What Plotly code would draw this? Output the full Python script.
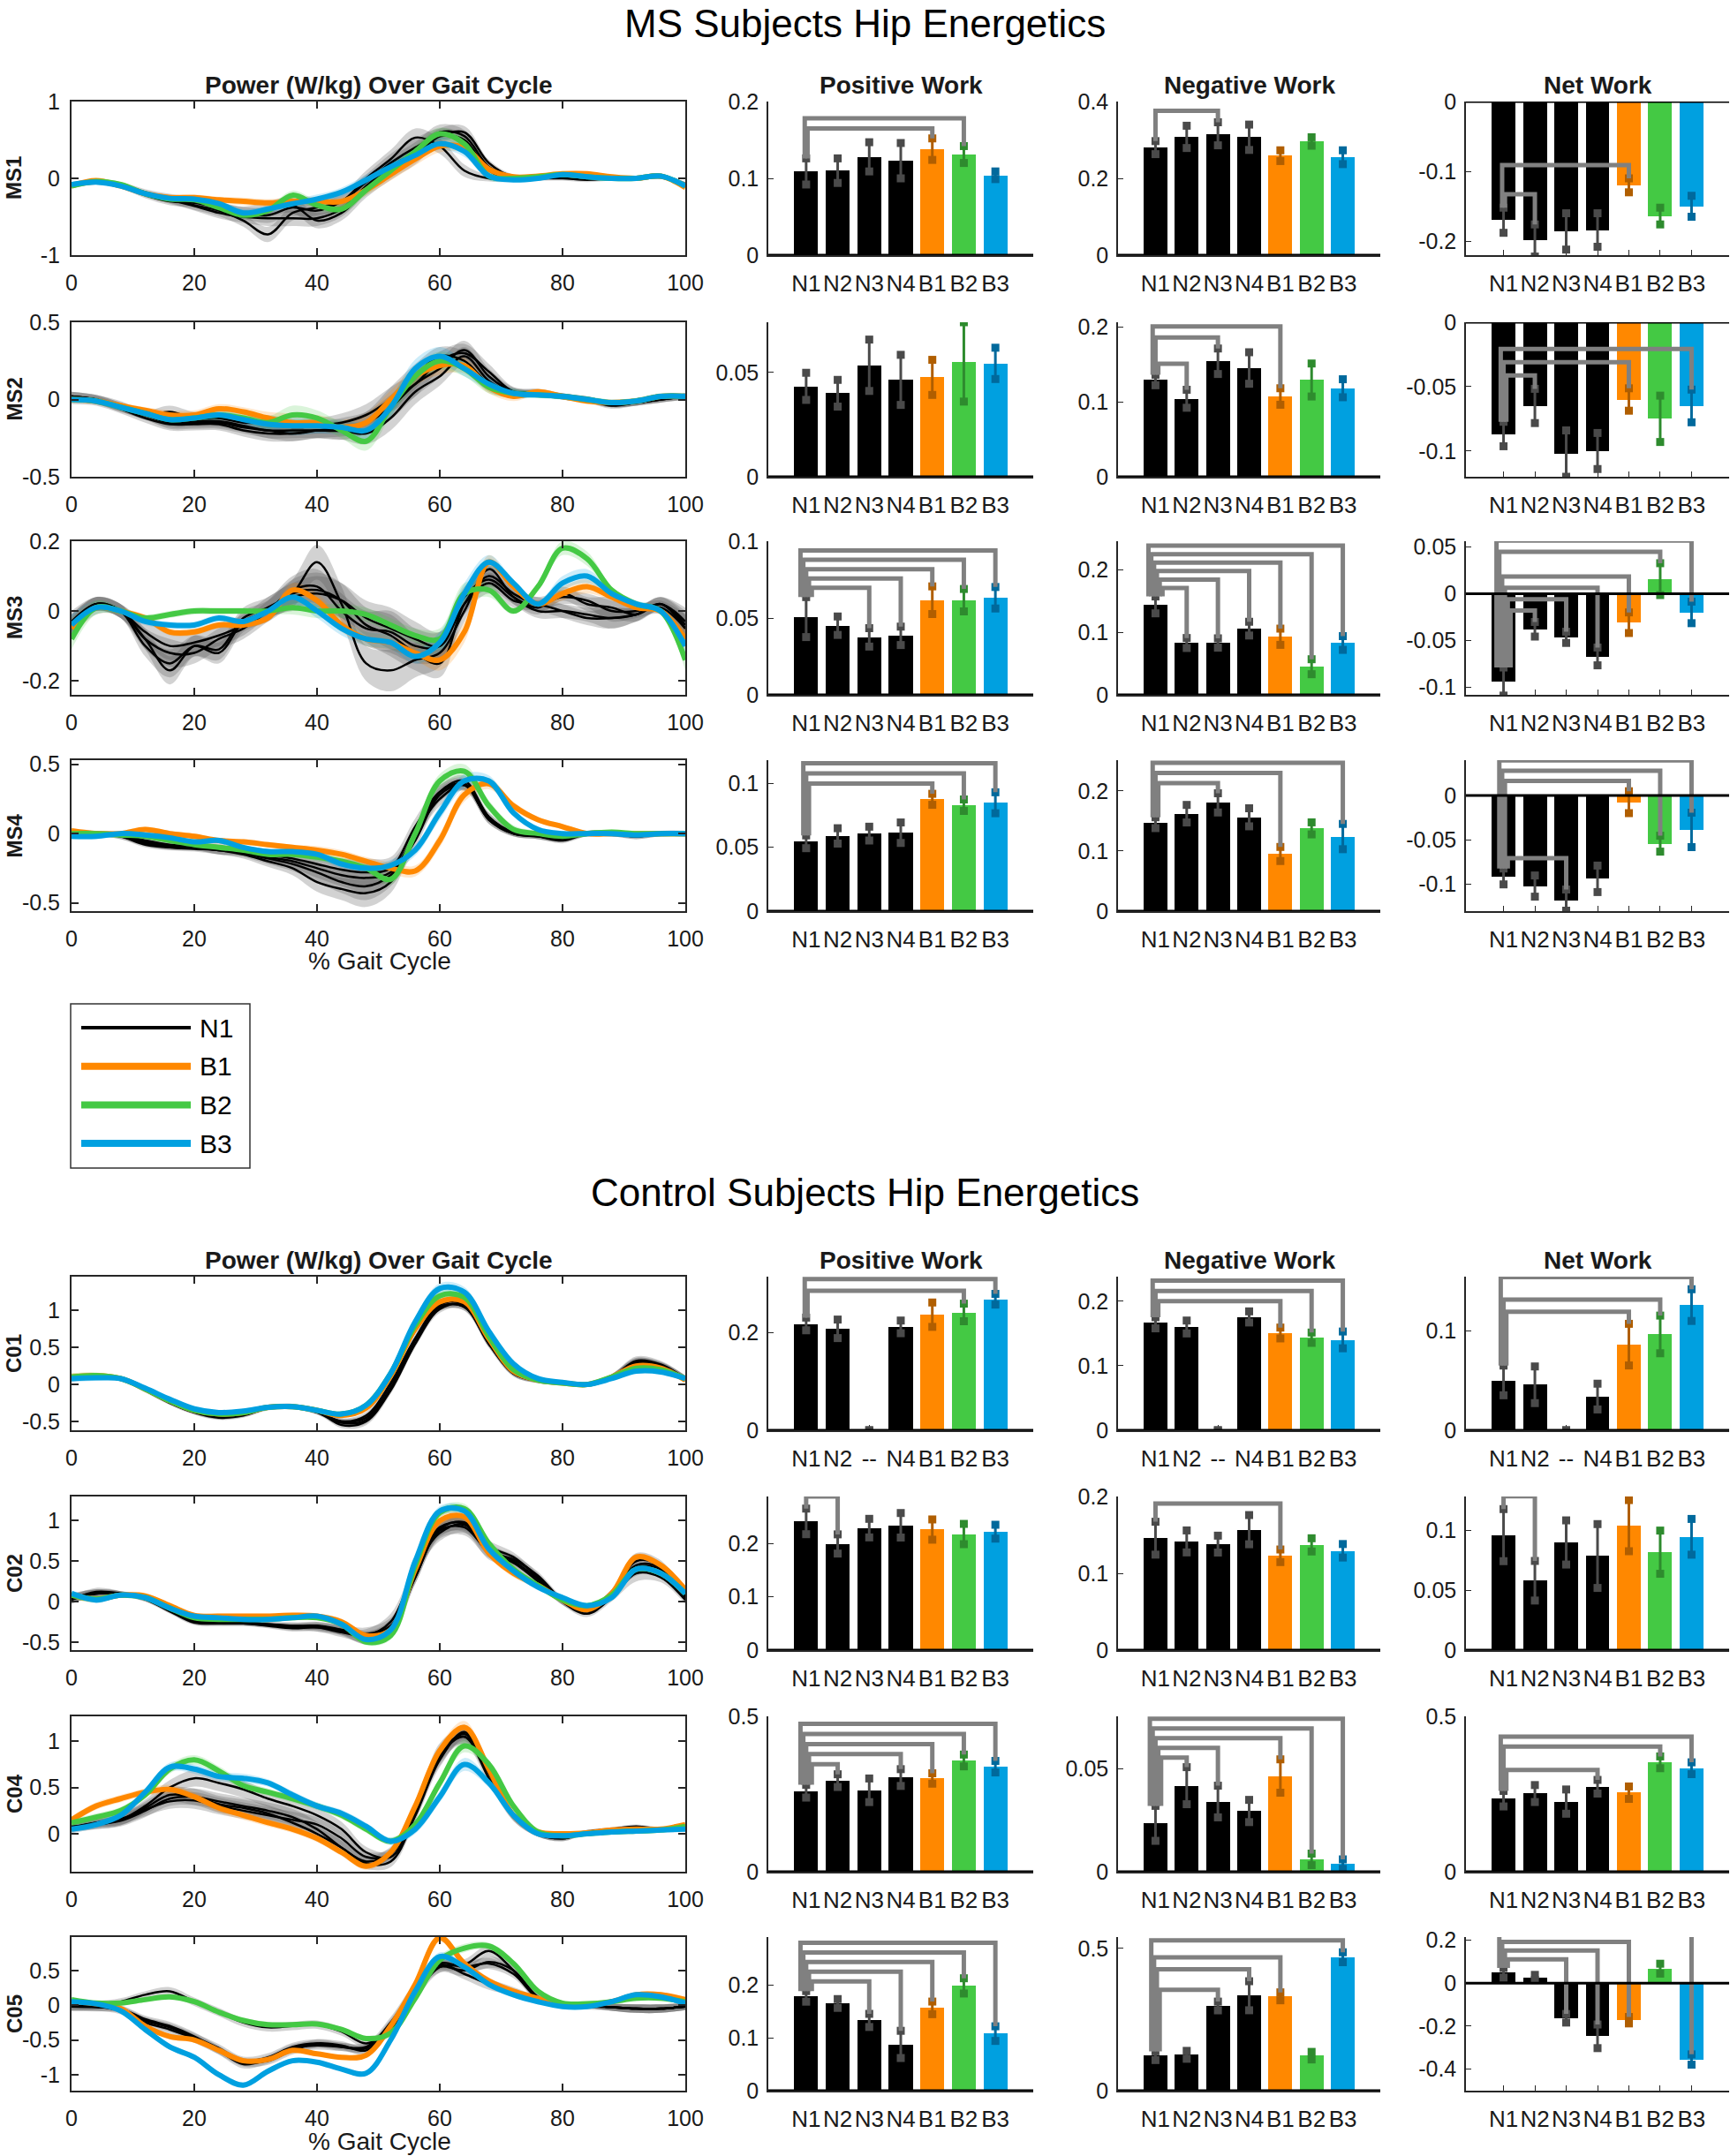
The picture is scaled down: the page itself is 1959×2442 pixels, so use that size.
import plotly.graph_objects as go

# ------------------------------------------------------------------ data
GAIT = [0, 4, 8, 12, 16, 20, 24, 28, 32, 36, 40, 44, 48, 52, 56, 60, 64, 68, 72, 76, 80, 84, 88, 92, 96, 100]
CONDITIONS = ["N1", "N2", "N3", "N4", "B1", "B2", "B3"]
SUBJECTS = ["MS1", "MS2", "MS3", "MS4", "C01", "C02", "C04", "C05"]
C01_LABELS = ["N1", "N2", "--", "N4", "B1", "B2", "B3"]
LEGEND_ITEMS = ["N1", "B1", "B2", "B3"]

MS1_POWER = {
    "N1": [-0.08, -0.04, -0.08, -0.20, -0.27, -0.35, -0.42, -0.55, -0.73, -0.45, -0.38, -0.30, 0.00, 0.25, 0.53, 0.42, 0.10, 0.00, 0.00, 0.00, 0.00, -0.02, 0.00, 0.00, 0.02, -0.08],
    "N2": [-0.10, -0.05, -0.10, -0.20, -0.28, -0.36, -0.45, -0.50, -0.52, -0.52, -0.52, -0.40, -0.10, 0.15, 0.35, 0.60, 0.55, 0.15, 0.02, 0.02, 0.05, 0.02, 0.00, 0.00, 0.02, -0.08],
    "N3": [-0.10, -0.05, -0.08, -0.18, -0.25, -0.30, -0.38, -0.45, -0.40, -0.35, -0.55, -0.45, -0.15, 0.10, 0.30, 0.55, 0.60, 0.20, 0.02, 0.02, 0.05, 0.00, 0.00, 0.00, 0.02, -0.08],
    "N4": [-0.08, -0.05, -0.10, -0.22, -0.30, -0.32, -0.38, -0.45, -0.48, -0.38, -0.42, -0.30, -0.05, 0.20, 0.40, 0.55, 0.50, 0.10, 0.00, 0.00, 0.05, 0.02, 0.00, 0.00, 0.02, -0.08],
    "B1": [-0.10, -0.03, -0.10, -0.20, -0.25, -0.25, -0.28, -0.30, -0.32, -0.30, -0.30, -0.30, -0.15, 0.05, 0.25, 0.42, 0.40, 0.12, 0.02, 0.03, 0.06, 0.06, 0.02, 0.00, 0.03, -0.12],
    "B2": [-0.10, -0.04, -0.08, -0.20, -0.27, -0.28, -0.38, -0.48, -0.42, -0.22, -0.35, -0.40, -0.15, 0.10, 0.35, 0.58, 0.45, 0.03, 0.00, 0.02, 0.05, 0.02, 0.00, 0.00, 0.03, -0.10],
    "B3": [-0.08, -0.05, -0.10, -0.20, -0.26, -0.27, -0.33, -0.45, -0.40, -0.33, -0.27, -0.18, -0.02, 0.15, 0.30, 0.45, 0.35, 0.03, -0.02, 0.00, 0.05, 0.02, 0.00, 0.00, 0.03, -0.10],
}
MS2_POWER = {
    "N1": [0.02, 0.00, -0.05, -0.10, -0.15, -0.15, -0.15, -0.18, -0.20, -0.22, -0.20, -0.18, -0.15, -0.05, 0.10, 0.20, 0.32, 0.15, 0.05, 0.05, 0.02, 0.00, -0.04, -0.02, 0.00, 0.02],
    "N2": [0.02, 0.00, -0.04, -0.10, -0.08, -0.12, -0.12, -0.15, -0.15, -0.18, -0.17, -0.15, -0.10, 0.00, 0.10, 0.25, 0.30, 0.18, 0.05, 0.04, 0.02, 0.00, -0.03, -0.02, 0.01, 0.02],
    "N3": [0.00, -0.01, -0.06, -0.12, -0.16, -0.16, -0.16, -0.20, -0.22, -0.22, -0.20, -0.20, -0.22, -0.12, 0.05, 0.15, 0.28, 0.12, 0.04, 0.04, 0.02, 0.00, -0.03, -0.02, 0.00, 0.02],
    "N4": [0.02, 0.00, -0.05, -0.10, -0.14, -0.14, -0.14, -0.17, -0.20, -0.20, -0.20, -0.20, -0.15, 0.00, 0.15, 0.28, 0.25, 0.10, 0.04, 0.04, 0.02, 0.00, -0.03, -0.02, 0.00, 0.02],
    "B1": [0.00, -0.01, -0.04, -0.07, -0.10, -0.10, -0.06, -0.08, -0.12, -0.15, -0.15, -0.18, -0.15, 0.00, 0.15, 0.22, 0.22, 0.08, 0.02, 0.05, 0.02, -0.01, -0.02, -0.01, 0.02, 0.02],
    "B2": [0.00, -0.01, -0.05, -0.09, -0.13, -0.12, -0.10, -0.12, -0.15, -0.10, -0.12, -0.20, -0.27, -0.05, 0.15, 0.25, 0.20, 0.08, 0.04, 0.03, 0.02, 0.00, -0.02, -0.01, 0.02, 0.02],
    "B3": [0.00, -0.01, -0.05, -0.09, -0.13, -0.12, -0.10, -0.13, -0.16, -0.17, -0.17, -0.18, -0.20, -0.05, 0.20, 0.28, 0.20, 0.10, 0.04, 0.03, 0.02, 0.00, -0.02, -0.01, 0.02, 0.02],
}
MS3_POWER = {
    "N1": [-0.05, 0.02, 0.00, -0.08, -0.17, -0.10, -0.11, -0.02, 0.01, 0.05, 0.14, 0.02, -0.15, -0.17, -0.14, -0.12, 0.00, 0.12, 0.04, 0.00, 0.00, -0.01, -0.02, -0.01, 0.02, -0.05],
    "N2": [-0.04, 0.02, 0.00, -0.10, -0.15, -0.10, -0.12, -0.03, 0.00, 0.05, 0.06, 0.03, -0.04, -0.07, -0.12, -0.15, 0.02, 0.10, 0.05, 0.02, 0.04, 0.03, 0.00, 0.00, 0.01, -0.05],
    "N3": [-0.04, 0.02, 0.00, -0.08, -0.12, -0.12, -0.08, -0.05, 0.00, 0.06, 0.07, 0.00, -0.05, -0.06, -0.10, -0.10, 0.04, 0.09, 0.04, 0.01, 0.05, 0.02, 0.01, -0.01, 0.02, -0.04],
    "N4": [-0.03, 0.02, 0.00, -0.06, -0.10, -0.09, -0.07, -0.04, 0.01, 0.04, 0.05, 0.03, -0.02, -0.05, -0.08, -0.10, 0.02, 0.08, 0.03, 0.02, 0.00, -0.02, -0.02, -0.01, 0.02, -0.03],
    "B1": [-0.05, 0.01, 0.00, -0.02, -0.06, -0.06, -0.04, -0.04, -0.02, 0.06, 0.03, -0.04, -0.08, -0.09, -0.12, -0.14, -0.06, 0.14, 0.07, 0.02, 0.05, 0.07, 0.04, 0.01, 0.00, -0.08],
    "B2": [-0.08, 0.01, 0.00, -0.02, -0.01, 0.00, 0.00, 0.00, 0.00, 0.01, 0.00, 0.00, -0.01, -0.04, -0.07, -0.08, 0.05, 0.06, 0.00, 0.07, 0.18, 0.15, 0.06, 0.02, 0.00, -0.14],
    "B3": [-0.04, 0.01, 0.00, -0.03, -0.04, -0.04, -0.02, -0.03, 0.00, 0.04, 0.00, -0.05, -0.08, -0.09, -0.13, -0.09, 0.05, 0.14, 0.08, 0.02, 0.08, 0.10, 0.05, 0.02, 0.00, -0.10],
}
MS4_POWER = {
    "N1": [0.00, 0.00, -0.02, -0.08, -0.10, -0.10, -0.12, -0.15, -0.20, -0.25, -0.35, -0.40, -0.43, -0.35, 0.00, 0.25, 0.35, 0.10, 0.00, -0.02, -0.05, 0.00, 0.00, -0.02, 0.00, 0.00],
    "N2": [0.00, 0.00, -0.01, -0.06, -0.09, -0.10, -0.12, -0.13, -0.17, -0.20, -0.25, -0.30, -0.32, -0.28, 0.00, 0.30, 0.38, 0.12, 0.00, -0.02, -0.04, 0.00, 0.00, -0.01, 0.00, 0.00],
    "N3": [0.00, 0.00, -0.02, -0.07, -0.10, -0.11, -0.12, -0.14, -0.18, -0.22, -0.28, -0.35, -0.38, -0.30, -0.05, 0.28, 0.35, 0.10, 0.00, -0.02, -0.04, 0.00, 0.00, -0.02, 0.00, 0.00],
    "N4": [0.00, 0.00, -0.01, -0.05, -0.08, -0.09, -0.10, -0.12, -0.15, -0.18, -0.22, -0.26, -0.28, -0.25, 0.05, 0.30, 0.36, 0.12, 0.01, -0.01, -0.03, 0.00, 0.00, -0.01, 0.00, 0.00],
    "B1": [0.02, 0.00, 0.00, 0.03, 0.00, -0.02, -0.05, -0.06, -0.08, -0.10, -0.12, -0.15, -0.20, -0.25, -0.27, -0.05, 0.28, 0.36, 0.20, 0.10, 0.05, 0.00, 0.00, 0.00, 0.00, 0.00],
    "B2": [0.00, 0.00, -0.01, -0.02, -0.05, -0.08, -0.10, -0.12, -0.15, -0.15, -0.17, -0.20, -0.25, -0.33, 0.00, 0.38, 0.45, 0.20, 0.03, 0.00, -0.02, 0.00, 0.01, 0.00, 0.00, 0.00],
    "B3": [-0.02, -0.02, 0.00, -0.01, -0.03, -0.06, -0.05, -0.10, -0.13, -0.13, -0.15, -0.22, -0.25, -0.23, -0.12, 0.15, 0.38, 0.38, 0.15, 0.03, 0.00, 0.00, 0.00, -0.01, 0.00, 0.00],
}
C01_POWER = {
    "N1": [0.10, 0.10, 0.08, -0.08, -0.25, -0.38, -0.45, -0.42, -0.32, -0.30, -0.38, -0.52, -0.48, -0.05, 0.60, 1.05, 1.05, 0.55, 0.15, 0.05, 0.02, 0.00, 0.10, 0.30, 0.25, 0.08],
    "N2": [0.08, 0.10, 0.08, -0.06, -0.22, -0.36, -0.43, -0.40, -0.30, -0.30, -0.36, -0.55, -0.50, -0.08, 0.55, 1.02, 1.08, 0.58, 0.16, 0.05, 0.02, 0.00, 0.10, 0.32, 0.27, 0.08],
    "N3": [0.10, 0.11, 0.08, -0.07, -0.24, -0.37, -0.44, -0.41, -0.31, -0.29, -0.37, -0.50, -0.45, 0.00, 0.62, 1.08, 1.10, 0.60, 0.18, 0.05, 0.02, 0.00, 0.10, 0.28, 0.25, 0.08],
    "N4": [0.09, 0.10, 0.08, -0.07, -0.23, -0.37, -0.44, -0.40, -0.31, -0.30, -0.37, -0.50, -0.42, 0.02, 0.62, 1.05, 1.05, 0.55, 0.15, 0.05, 0.02, 0.00, 0.10, 0.30, 0.26, 0.08],
    "B1": [0.10, 0.12, 0.08, -0.06, -0.22, -0.35, -0.40, -0.38, -0.31, -0.30, -0.35, -0.42, -0.32, 0.12, 0.75, 1.12, 1.12, 0.62, 0.18, 0.06, 0.02, 0.00, 0.10, 0.25, 0.22, 0.06],
    "B2": [0.10, 0.12, 0.08, -0.06, -0.22, -0.35, -0.40, -0.38, -0.31, -0.30, -0.35, -0.40, -0.28, 0.15, 0.80, 1.20, 1.18, 0.65, 0.20, 0.06, 0.02, 0.00, 0.10, 0.22, 0.20, 0.08],
    "B3": [0.08, 0.09, 0.08, -0.05, -0.20, -0.33, -0.38, -0.36, -0.31, -0.30, -0.35, -0.40, -0.28, 0.15, 0.85, 1.30, 1.25, 0.72, 0.28, 0.08, 0.03, 0.00, 0.08, 0.18, 0.17, 0.08],
}
C02_POWER = {
    "N1": [0.05, 0.10, 0.10, 0.05, -0.10, -0.25, -0.27, -0.27, -0.30, -0.33, -0.32, -0.38, -0.42, -0.25, 0.40, 0.85, 0.95, 0.65, 0.50, 0.28, 0.00, -0.12, 0.10, 0.42, 0.40, 0.05],
    "N2": [0.02, 0.12, 0.10, 0.03, -0.12, -0.26, -0.26, -0.26, -0.28, -0.30, -0.32, -0.35, -0.40, -0.30, 0.30, 0.90, 0.98, 0.68, 0.55, 0.30, 0.00, -0.15, 0.05, 0.35, 0.30, 0.02],
    "N3": [0.03, 0.10, 0.10, 0.03, -0.10, -0.24, -0.26, -0.26, -0.28, -0.30, -0.30, -0.36, -0.45, -0.35, 0.30, 0.88, 0.92, 0.62, 0.52, 0.32, 0.02, -0.12, 0.08, 0.45, 0.42, 0.05],
    "N4": [0.05, 0.10, 0.10, 0.04, -0.11, -0.25, -0.27, -0.27, -0.29, -0.32, -0.30, -0.35, -0.45, -0.32, 0.35, 0.92, 0.96, 0.60, 0.48, 0.25, 0.00, -0.10, 0.10, 0.50, 0.45, 0.05],
    "B1": [0.08, 0.03, 0.08, 0.07, -0.05, -0.17, -0.18, -0.18, -0.18, -0.17, -0.18, -0.25, -0.42, -0.35, 0.40, 1.00, 1.05, 0.60, 0.35, 0.20, 0.02, -0.10, 0.10, 0.55, 0.45, 0.15],
    "B2": [0.08, 0.03, 0.08, 0.05, -0.08, -0.20, -0.22, -0.22, -0.22, -0.20, -0.20, -0.28, -0.50, -0.42, 0.45, 1.10, 1.15, 0.72, 0.40, 0.20, 0.02, -0.05, 0.08, 0.40, 0.35, 0.10],
    "B3": [0.10, 0.02, 0.08, 0.05, -0.08, -0.18, -0.20, -0.22, -0.22, -0.20, -0.18, -0.28, -0.47, -0.35, 0.50, 1.12, 1.12, 0.65, 0.38, 0.18, 0.05, -0.05, 0.05, 0.40, 0.35, 0.10],
}
C04_POWER = {
    "N1": [0.08, 0.10, 0.15, 0.30, 0.50, 0.60, 0.55, 0.48, 0.38, 0.30, 0.20, 0.05, -0.20, -0.25, 0.20, 0.80, 1.10, 0.70, 0.20, 0.00, -0.05, 0.02, 0.05, 0.08, 0.05, 0.05],
    "N2": [0.05, 0.10, 0.14, 0.25, 0.38, 0.40, 0.35, 0.30, 0.25, 0.18, 0.05, -0.15, -0.30, -0.20, 0.25, 0.85, 1.05, 0.65, 0.18, 0.00, -0.04, 0.02, 0.04, 0.05, 0.05, 0.05],
    "N3": [0.06, 0.12, 0.15, 0.28, 0.42, 0.40, 0.32, 0.28, 0.22, 0.12, 0.00, -0.15, -0.32, -0.30, 0.20, 0.90, 1.05, 0.60, 0.18, 0.00, -0.04, 0.02, 0.04, 0.06, 0.05, 0.05],
    "N4": [0.07, 0.12, 0.16, 0.26, 0.35, 0.36, 0.30, 0.25, 0.20, 0.15, 0.10, -0.05, -0.25, -0.22, 0.22, 0.82, 1.08, 0.68, 0.20, 0.00, -0.05, 0.02, 0.05, 0.07, 0.05, 0.05],
    "B1": [0.15, 0.30, 0.38, 0.45, 0.48, 0.40, 0.28, 0.20, 0.12, 0.05, -0.05, -0.20, -0.35, -0.20, 0.30, 0.90, 1.15, 0.70, 0.20, 0.02, 0.00, 0.01, 0.04, 0.05, 0.05, 0.10],
    "B2": [0.12, 0.18, 0.25, 0.42, 0.70, 0.80, 0.68, 0.52, 0.45, 0.38, 0.30, 0.20, 0.05, -0.08, 0.10, 0.55, 0.95, 0.75, 0.30, 0.02, -0.02, 0.00, 0.02, 0.03, 0.04, 0.08],
    "B3": [0.05, 0.10, 0.20, 0.45, 0.72, 0.70, 0.62, 0.60, 0.55, 0.42, 0.30, 0.22, 0.08, -0.08, 0.05, 0.40, 0.75, 0.55, 0.20, 0.00, -0.02, 0.00, 0.02, 0.03, 0.04, 0.05],
}
C05_POWER = {
    "N1": [0.00, 0.00, 0.05, 0.15, 0.20, 0.05, -0.10, -0.25, -0.32, -0.30, -0.28, -0.38, -0.55, -0.35, 0.15, 0.55, 0.58, 0.78, 0.50, 0.10, 0.00, -0.02, -0.03, -0.05, -0.05, -0.02],
    "N2": [-0.02, -0.02, -0.05, -0.20, -0.30, -0.45, -0.65, -0.85, -0.78, -0.62, -0.58, -0.60, -0.60, -0.25, 0.25, 0.58, 0.45, 0.30, 0.20, 0.08, 0.00, 0.00, -0.03, -0.05, -0.05, -0.02],
    "N3": [-0.02, -0.02, -0.08, -0.25, -0.35, -0.48, -0.65, -0.82, -0.80, -0.65, -0.55, -0.58, -0.65, -0.30, 0.20, 0.60, 0.55, 0.60, 0.45, 0.10, 0.00, 0.00, -0.03, -0.05, -0.05, -0.02],
    "N4": [-0.02, -0.03, -0.06, -0.22, -0.32, -0.46, -0.62, -0.80, -0.75, -0.60, -0.55, -0.60, -0.62, -0.28, 0.22, 0.55, 0.50, 0.62, 0.50, 0.12, 0.00, 0.00, -0.03, -0.05, -0.05, -0.02],
    "B1": [0.05, 0.02, -0.05, -0.30, -0.45, -0.50, -0.65, -0.80, -0.78, -0.65, -0.70, -0.75, -0.72, -0.30, 0.30, 0.97, 0.60, 0.35, 0.20, 0.10, 0.00, 0.00, 0.05, 0.15, 0.15, 0.08],
    "B2": [0.08, 0.03, 0.03, 0.08, 0.12, 0.05, -0.10, -0.22, -0.28, -0.28, -0.27, -0.35, -0.48, -0.40, 0.10, 0.65, 0.82, 0.85, 0.60, 0.20, 0.03, 0.02, 0.05, 0.10, 0.10, 0.05],
    "B3": [0.05, 0.02, -0.08, -0.35, -0.60, -0.75, -1.00, -1.15, -0.95, -0.80, -0.82, -0.92, -0.98, -0.50, 0.20, 0.70, 0.55, 0.30, 0.15, 0.05, -0.02, -0.02, 0.05, 0.15, 0.12, 0.03],
}

# shaded band half-widths (black conditions / coloured conditions)
MS1_BAND_N = [0.03, 0.03, 0.03, 0.04, 0.05, 0.06, 0.07, 0.08, 0.10, 0.10, 0.10, 0.10, 0.10, 0.12, 0.12, 0.10, 0.08, 0.04, 0.03, 0.03, 0.03, 0.03, 0.03, 0.03, 0.03, 0.03]
MS1_BAND_B = [0.03, 0.03, 0.03, 0.03, 0.04, 0.04, 0.04, 0.05, 0.05, 0.06, 0.06, 0.06, 0.07, 0.08, 0.08, 0.08, 0.07, 0.05, 0.03, 0.03, 0.03, 0.03, 0.03, 0.03, 0.03, 0.03]
MS2_BAND_N = [0.03, 0.03, 0.03, 0.03, 0.04, 0.04, 0.04, 0.04, 0.05, 0.05, 0.05, 0.06, 0.07, 0.08, 0.08, 0.06, 0.06, 0.05, 0.03, 0.02, 0.02, 0.02, 0.02, 0.02, 0.02, 0.02]
MS2_BAND_B = [0.02, 0.02, 0.02, 0.02, 0.03, 0.03, 0.03, 0.03, 0.04, 0.06, 0.05, 0.05, 0.06, 0.06, 0.06, 0.06, 0.05, 0.04, 0.03, 0.02, 0.02, 0.02, 0.02, 0.02, 0.02, 0.02]
MS3_BAND_N = [0.03, 0.02, 0.02, 0.03, 0.04, 0.03, 0.03, 0.03, 0.03, 0.04, 0.05, 0.05, 0.05, 0.06, 0.05, 0.04, 0.03, 0.03, 0.02, 0.02, 0.02, 0.02, 0.03, 0.02, 0.02, 0.04]
MS3_BAND_B = [0.03, 0.02, 0.01, 0.01, 0.01, 0.01, 0.01, 0.01, 0.01, 0.02, 0.02, 0.02, 0.02, 0.02, 0.02, 0.03, 0.03, 0.02, 0.01, 0.01, 0.02, 0.02, 0.01, 0.01, 0.01, 0.03]
MS4_BAND_N = [0.02, 0.02, 0.02, 0.02, 0.02, 0.02, 0.03, 0.03, 0.04, 0.05, 0.07, 0.08, 0.10, 0.08, 0.06, 0.05, 0.04, 0.03, 0.02, 0.02, 0.02, 0.02, 0.02, 0.02, 0.02, 0.02]
MS4_BAND_B = [0.02, 0.02, 0.02, 0.02, 0.02, 0.02, 0.02, 0.02, 0.02, 0.02, 0.03, 0.03, 0.03, 0.04, 0.04, 0.05, 0.05, 0.04, 0.03, 0.02, 0.02, 0.02, 0.02, 0.02, 0.02, 0.02]
C01_BAND_N = [0.04, 0.03, 0.03, 0.03, 0.03, 0.03, 0.03, 0.03, 0.03, 0.03, 0.03, 0.04, 0.05, 0.05, 0.05, 0.05, 0.05, 0.05, 0.04, 0.03, 0.03, 0.03, 0.04, 0.06, 0.05, 0.04]
C01_BAND_B = [0.05, 0.04, 0.03, 0.03, 0.03, 0.03, 0.03, 0.03, 0.03, 0.03, 0.03, 0.03, 0.04, 0.05, 0.06, 0.07, 0.07, 0.05, 0.04, 0.03, 0.03, 0.03, 0.03, 0.03, 0.03, 0.04]
C02_BAND_N = [0.05, 0.05, 0.03, 0.03, 0.03, 0.03, 0.03, 0.03, 0.03, 0.04, 0.05, 0.06, 0.08, 0.10, 0.08, 0.10, 0.10, 0.08, 0.06, 0.05, 0.04, 0.04, 0.05, 0.10, 0.06, 0.05]
C02_BAND_B = [0.04, 0.04, 0.03, 0.03, 0.03, 0.03, 0.03, 0.03, 0.03, 0.03, 0.03, 0.04, 0.04, 0.05, 0.06, 0.06, 0.06, 0.05, 0.05, 0.04, 0.03, 0.03, 0.03, 0.04, 0.04, 0.04]
C04_BAND_N = [0.04, 0.05, 0.06, 0.07, 0.08, 0.09, 0.09, 0.09, 0.09, 0.09, 0.08, 0.08, 0.06, 0.06, 0.06, 0.08, 0.08, 0.06, 0.04, 0.03, 0.03, 0.02, 0.02, 0.02, 0.02, 0.02]
C04_BAND_B = [0.04, 0.04, 0.04, 0.04, 0.05, 0.05, 0.05, 0.05, 0.04, 0.04, 0.04, 0.04, 0.04, 0.04, 0.05, 0.06, 0.07, 0.05, 0.03, 0.03, 0.02, 0.02, 0.02, 0.02, 0.02, 0.03]
C05_BAND_N = [0.06, 0.06, 0.05, 0.05, 0.06, 0.06, 0.06, 0.06, 0.06, 0.06, 0.06, 0.06, 0.06, 0.08, 0.08, 0.08, 0.08, 0.08, 0.06, 0.05, 0.04, 0.04, 0.05, 0.06, 0.06, 0.05]
C05_BAND_B = [0.03, 0.03, 0.03, 0.03, 0.04, 0.04, 0.04, 0.04, 0.04, 0.03, 0.03, 0.03, 0.04, 0.05, 0.05, 0.06, 0.06, 0.05, 0.04, 0.03, 0.03, 0.03, 0.03, 0.04, 0.04, 0.04]

# work bars: mean, sd, significant comparisons against N1
MS1_POS = [0.109, 0.110, 0.128, 0.123, 0.138, 0.131, 0.104]
MS1_POS_SD = [0.017, 0.016, 0.019, 0.023, 0.014, 0.011, 0.005]
MS1_POS_SIG = ["B1", "B2"]
MS1_NEG = [0.280, 0.308, 0.316, 0.307, 0.259, 0.296, 0.255]
MS1_NEG_SD = [0.017, 0.029, 0.030, 0.033, 0.014, 0.011, 0.018]
MS1_NEG_SIG = ["N3"]
MS1_NET = [-0.170, -0.199, -0.186, -0.184, -0.120, -0.164, -0.150]
MS1_NET_SD = [0.018, 0.023, 0.026, 0.024, 0.010, 0.012, 0.015]
MS1_NET_SIG = ["N2", "B1"]

MS2_POS = [0.0433, 0.040, 0.0534, 0.0464, 0.0476, 0.055, 0.0543]
MS2_POS_SD = [0.0065, 0.0064, 0.0123, 0.012, 0.0084, 0.019, 0.0075]
MS2_POS_SIG = []
MS2_NEG = [0.129, 0.104, 0.154, 0.145, 0.107, 0.129, 0.118]
MS2_NEG_SD = [0.007, 0.012, 0.017, 0.021, 0.011, 0.022, 0.012]
MS2_NEG_SIG = ["N2", "N3", "B1"]
MS2_NET = [-0.0868, -0.065, -0.102, -0.100, -0.060, -0.075, -0.065]
MS2_NET_SD = [0.0095, 0.0133, 0.018, 0.014, 0.0087, 0.018, 0.0127]
MS2_NET_SIG = ["N2", "B1", "B3"]

MS3_POS = [0.0506, 0.045, 0.0374, 0.0384, 0.0616, 0.0616, 0.0632]
MS3_POS_SD = [0.013, 0.006, 0.006, 0.006, 0.009, 0.0073, 0.007]
MS3_POS_SIG = ["N3", "N4", "B1", "B2", "B3"]
MS3_NEG = [0.144, 0.083, 0.083, 0.106, 0.093, 0.045, 0.083]
MS3_NEG_SD = [0.0135, 0.008, 0.0075, 0.011, 0.013, 0.012, 0.011]
MS3_NEG_SIG = ["N2", "N3", "N4", "B1", "B2", "B3"]
MS3_NET = [-0.0938, -0.038, -0.0466, -0.067, -0.031, 0.0155, -0.020]
MS3_NET_SD = [0.015, 0.0078, 0.006, 0.0095, 0.011, 0.017, 0.0115]
MS3_NET_SIG = ["N2", "N3", "N4", "B1", "B2", "B3"]

MS4_POS = [0.0542, 0.0588, 0.0606, 0.0613, 0.0874, 0.0828, 0.0847]
MS4_POS_SD = [0.005, 0.006, 0.0054, 0.008, 0.0043, 0.0045, 0.0082]
MS4_POS_SIG = ["B1", "B2", "B3"]
MS4_NEG = [0.147, 0.162, 0.180, 0.156, 0.095, 0.1376, 0.124]
MS4_NEG_SD = [0.009, 0.0146, 0.016, 0.015, 0.0117, 0.010, 0.021]
MS4_NEG_SIG = ["N3", "B1", "B3"]
MS4_NET = [-0.0917, -0.1026, -0.1185, -0.0944, -0.0076, -0.0546, -0.039]
MS4_NET_SD = [0.009, 0.012, 0.012, 0.015, 0.0124, 0.009, 0.0195]
MS4_NET_SIG = ["N3", "B1", "B2", "B3"]

C01_POS = [0.218, 0.208, 0.0, 0.212, 0.237, 0.2416, 0.2687]
C01_POS_SD = [0.013, 0.019, 0.0, 0.013, 0.025, 0.018, 0.011]
C01_POS_SIG = ["B2", "B3"]
C01_NEG = [0.1665, 0.160, 0.0, 0.1756, 0.1507, 0.1434, 0.140]
C01_NEG_SD = [0.0086, 0.010, 0.0, 0.0086, 0.0084, 0.008, 0.013]
C01_NEG_SIG = ["B1", "B2", "B3"]
C01_NET = [0.0503, 0.0459, 0.0, 0.034, 0.0864, 0.0967, 0.1263]
C01_NET_SD = [0.015, 0.0185, 0.0, 0.013, 0.021, 0.019, 0.016]
C01_NET_SIG = ["B1", "B2", "B3"]

C02_POS = [0.2413, 0.199, 0.2287, 0.234, 0.226, 0.2176, 0.222]
C02_POS_SD = [0.024, 0.018, 0.0174, 0.023, 0.019, 0.019, 0.013]
C02_POS_SIG = ["N2"]
C02_NEG = [0.1457, 0.1415, 0.138, 0.1568, 0.1228, 0.137, 0.1293]
C02_NEG_SD = [0.0214, 0.0143, 0.011, 0.019, 0.0082, 0.0086, 0.0088]
C02_NEG_SIG = ["B1"]
C02_NET = [0.0958, 0.0578, 0.0897, 0.0784, 0.1037, 0.0816, 0.0944]
C02_NET_SD = [0.0217, 0.0165, 0.0184, 0.0266, 0.0213, 0.018, 0.0149]
C02_NET_SIG = ["N2"]

C04_POS = [0.259, 0.293, 0.262, 0.303, 0.300, 0.358, 0.338]
C04_POS_SD = [0.0205, 0.0205, 0.038, 0.027, 0.0167, 0.019, 0.0186]
C04_POS_SIG = ["N2", "N4", "B1", "B2", "B3"]
C04_NEG = [0.0235, 0.0418, 0.0341, 0.0295, 0.0465, 0.006, 0.0037]
C04_NEG_SD = [0.0085, 0.009, 0.0077, 0.0054, 0.0081, 0.0028, 0.0023]
C04_NEG_SIG = ["N2", "N3", "B1", "B2", "B3"]
C04_NET = [0.235, 0.2515, 0.2256, 0.2734, 0.2543, 0.352, 0.333]
C04_NET_SD = [0.025, 0.0273, 0.039, 0.022, 0.020, 0.019, 0.019]
C04_NET_SIG = ["N4", "B2", "B3"]

C05_POS = [0.178, 0.1646, 0.1326, 0.0873, 0.1563, 0.1978, 0.1077]
C05_POS_SD = [0.010, 0.0083, 0.0124, 0.0257, 0.0119, 0.0144, 0.0138]
C05_POS_SIG = ["N3", "N4", "B1", "B2", "B3"]
C05_NEG = [0.123, 0.126, 0.2977, 0.3337, 0.3316, 0.123, 0.469]
C05_NEG_SD = [0.0154, 0.0139, 0.0154, 0.051, 0.014, 0.0133, 0.0175]
C05_NEG_SIG = ["N3", "N4", "B1", "B3"]
C05_NET = [0.0488, 0.027, -0.163, -0.247, -0.172, 0.0678, -0.355]
C05_NET_SD = [0.0224, 0.012, 0.02, 0.055, 0.015, 0.023, 0.024]
C05_NET_SIG = ["N3", "N4", "B1", "B3"]

# ------------------------------------------------------------------ assemble tables
POWER = {"MS1": MS1_POWER, "MS2": MS2_POWER, "MS3": MS3_POWER, "MS4": MS4_POWER,
         "C01": C01_POWER, "C02": C02_POWER, "C04": C04_POWER, "C05": C05_POWER}
BAND_N = {"MS1": MS1_BAND_N, "MS2": MS2_BAND_N, "MS3": MS3_BAND_N, "MS4": MS4_BAND_N,
          "C01": C01_BAND_N, "C02": C02_BAND_N, "C04": C04_BAND_N, "C05": C05_BAND_N}
BAND_B = {"MS1": MS1_BAND_B, "MS2": MS2_BAND_B, "MS3": MS3_BAND_B, "MS4": MS4_BAND_B,
          "C01": C01_BAND_B, "C02": C02_BAND_B, "C04": C04_BAND_B, "C05": C05_BAND_B}
_g = globals()
WORK = {}
for s in SUBJECTS:
    for m in ("POS", "NEG", "NET"):
        WORK[(s, m)] = (_g[f"{s}_{m}"], _g[f"{s}_{m}_SD"], _g[f"{s}_{m}_SIG"])
XLABELS = {s: CONDITIONS for s in SUBJECTS}
XLABELS["C01"] = C01_LABELS

# ------------------------------------------------------------------ styling / layout
W, H = 1959, 2442
FONT = "Liberation Sans, Arial, Helvetica, sans-serif"
TXT = "#1a1a1a"
COLORS = {"N1": "#000000", "N2": "#000000", "N3": "#000000", "N4": "#000000",
          "B1": "#FF8800", "B2": "#44C944", "B3": "#00A0E0"}
BANDS = {"N": "rgba(80,80,80,0.26)", "B1": "rgba(255,136,0,0.20)",
         "B2": "rgba(68,201,68,0.20)", "B3": "rgba(0,160,224,0.20)"}
ERR_GROUPS = [([0, 1, 2, 3], "#4a4a4a"), ([4], "#B05E00"), ([5], "#2E8B2E"), ([6], "#00699C")]

ROW_PX = {"MS1": (115, 289), "MS2": (365, 540), "MS3": (613, 787), "MS4": (861, 1032),
          "C01": (1446, 1620), "C02": (1695, 1869), "C04": (1944, 2120), "C05": (2194, 2368)}
COL_PX = {"power": (81, 776), "POS": (870, 1170), "NEG": (1266, 1563), "NET": (1660, 1958)}
COLS = ["power", "POS", "NEG", "NET"]

POWER_RANGE = {"MS1": [-1, 1], "MS2": [-0.5, 0.5], "MS3": [-0.24, 0.2], "MS4": [-0.56, 0.53],
               "C01": [-0.62, 1.46], "C02": [-0.6, 1.3], "C04": [-0.41, 1.27], "C05": [-1.23, 0.98]}
POWER_TICKS = {"MS1": [-1, 0, 1], "MS2": [-0.5, 0, 0.5], "MS3": [-0.2, 0, 0.2], "MS4": [-0.5, 0, 0.5],
               "C01": [-0.5, 0, 0.5, 1], "C02": [-0.5, 0, 0.5, 1], "C04": [0, 0.5, 1], "C05": [-1, -0.5, 0, 0.5]}
WORK_RANGE = {
    ("MS1", "POS"): [0, 0.2], ("MS1", "NEG"): [0, 0.4], ("MS1", "NET"): [-0.22, 0],
    ("MS2", "POS"): [0, 0.074], ("MS2", "NEG"): [0, 0.206], ("MS2", "NET"): [-0.12, 0],
    ("MS3", "POS"): [0, 0.1], ("MS3", "NEG"): [0, 0.246], ("MS3", "NET"): [-0.108, 0.056],
    ("MS4", "POS"): [0, 0.118], ("MS4", "NEG"): [0, 0.251], ("MS4", "NET"): [-0.131, 0.04],
    ("C01", "POS"): [0, 0.315], ("C01", "NEG"): [0, 0.238], ("C01", "NET"): [0, 0.155],
    ("C02", "POS"): [0, 0.288], ("C02", "NEG"): [0, 0.2], ("C02", "NET"): [0, 0.128],
    ("C04", "POS"): [0, 0.5], ("C04", "NEG"): [0, 0.0755], ("C04", "NET"): [0, 0.5],
    ("C05", "POS"): [0, 0.29], ("C05", "NEG"): [0, 0.54], ("C05", "NET"): [-0.5, 0.215],
}
WORK_TICKS = {
    ("MS1", "POS"): [0, 0.1, 0.2], ("MS1", "NEG"): [0, 0.2, 0.4], ("MS1", "NET"): [-0.2, -0.1, 0],
    ("MS2", "POS"): [0, 0.05], ("MS2", "NEG"): [0, 0.1, 0.2], ("MS2", "NET"): [-0.1, -0.05, 0],
    ("MS3", "POS"): [0, 0.05, 0.1], ("MS3", "NEG"): [0, 0.1, 0.2], ("MS3", "NET"): [-0.1, -0.05, 0, 0.05],
    ("MS4", "POS"): [0, 0.05, 0.1], ("MS4", "NEG"): [0, 0.1, 0.2], ("MS4", "NET"): [-0.1, -0.05, 0],
    ("C01", "POS"): [0, 0.2], ("C01", "NEG"): [0, 0.1, 0.2], ("C01", "NET"): [0, 0.1],
    ("C02", "POS"): [0, 0.1, 0.2], ("C02", "NEG"): [0, 0.1, 0.2], ("C02", "NET"): [0, 0.05, 0.1],
    ("C04", "POS"): [0, 0.5], ("C04", "NEG"): [0, 0.05], ("C04", "NET"): [0, 0.5],
    ("C05", "POS"): [0, 0.1, 0.2], ("C05", "NEG"): [0, 0.5], ("C05", "NET"): [-0.4, -0.2, 0, 0.2],
}
XR = [-0.2, 8.2]


def fmt(v):
    return "%g" % v


def px(xp):
    return xp / W


def py(yp):
    return 1 - yp / H


fig = go.Figure()
layout = {}
shapes = []
annotations = []

for r, subj in enumerate(SUBJECTS):
    y0p, y1p = ROW_PX[subj]
    ydom = [py(y1p), py(y0p)]
    for c, col in enumerate(COLS):
        n = r * 4 + c + 1
        xa = "x" if n == 1 else f"x{n}"
        ya = "y" if n == 1 else f"y{n}"
        xk = "xaxis" if n == 1 else f"xaxis{n}"
        yk = "yaxis" if n == 1 else f"yaxis{n}"
        x0p, x1p = COL_PX[col]
        xdom = [px(x0p), px(x1p)]
        if col == "power":
            curves = POWER[subj]
            for cond in CONDITIONS:
                mean = curves[cond]
                band = BAND_N[subj] if cond.startswith("N") else BAND_B[subj]
                bcol = BANDS["N"] if cond.startswith("N") else BANDS[cond]
                up = [m + b for m, b in zip(mean, band)]
                lo = [m - b for m, b in zip(mean, band)]
                fig.add_trace(go.Scatter(x=GAIT, y=up, mode="lines", line=dict(width=0, shape="spline", smoothing=1.0),
                                         hoverinfo="skip", showlegend=False, xaxis=xa, yaxis=ya))
                fig.add_trace(go.Scatter(x=GAIT, y=lo, mode="lines", line=dict(width=0, shape="spline", smoothing=1.0),
                                         fill="tonexty", fillcolor=bcol, hoverinfo="skip", showlegend=False,
                                         xaxis=xa, yaxis=ya))
            for cond in CONDITIONS:
                wid = 2.5 if cond.startswith("N") else 6
                fig.add_trace(go.Scatter(x=GAIT, y=curves[cond], mode="lines",
                                         line=dict(color=COLORS[cond], width=wid, shape="spline", smoothing=1.0),
                                         name=cond, showlegend=False, xaxis=xa, yaxis=ya))
            axstyle = dict(showline=True, mirror="ticks", linecolor="#262626", linewidth=2, ticks="inside",
                           ticklen=8, tickwidth=1.5, tickcolor="#262626", showgrid=False, zeroline=False,
                           tickfont=dict(family=FONT, size=25, color=TXT), fixedrange=True, tickangle=0,
                           automargin=False)
            layout[xk] = dict(domain=xdom, anchor=ya, range=[0, 100], tickvals=[0, 20, 40, 60, 80, 100],
                              ticktext=[fmt(v) for v in [0, 20, 40, 60, 80, 100]], ticklabelstandoff=8, **axstyle)
            layout[yk] = dict(domain=ydom, anchor=xa, range=POWER_RANGE[subj], tickvals=POWER_TICKS[subj],
                              ticktext=[fmt(v) for v in POWER_TICKS[subj]], ticklabelstandoff=6, **axstyle)
        else:
            means, sds, sig = WORK[(subj, col)]
            xs = list(range(1, 8))
            fig.add_trace(go.Bar(x=xs, y=means, width=0.76,
                                 marker=dict(color=[COLORS[cn] for cn in CONDITIONS], line=dict(width=0)),
                                 showlegend=False, hoverinfo="skip", xaxis=xa, yaxis=ya))
            tops = [m + s for m, s in zip(means, sds)]
            bots = [m - s for m, s in zip(means, sds)]
            for idxs, ecol in ERR_GROUPS:
                ex, ey = [], []
                for i in idxs:
                    ex += [xs[i], xs[i], None]
                    ey += [bots[i], tops[i], None]
                fig.add_trace(go.Scatter(x=ex, y=ey, mode="lines+markers",
                                         line=dict(color=ecol, width=3),
                                         marker=dict(symbol="square", size=9, color=ecol),
                                         showlegend=False, hoverinfo="skip", xaxis=xa, yaxis=ya))
            if sig:
                span = max(max(tops), 0) - min(min(bots), 0)
                step = 0.086 * span
                targets = sorted(CONDITIONS.index(t) for t in sig)
                nb = len(targets)
                level = None
                bx, by = [], []
                for k, j in enumerate(targets):
                    base = max(tops[0:j + 1])
                    level = (base if level is None else max(level, base)) + step
                    dx = 0.09 * ((nb - 1) / 2 - k)
                    bx += [xs[0] + dx, xs[0] + dx, xs[j], xs[j], None]
                    by += [tops[0], level, level, tops[j], None]
                fig.add_trace(go.Scatter(x=bx, y=by, mode="lines", line=dict(color="#808080", width=5),
                                         showlegend=False, hoverinfo="skip", xaxis=xa, yaxis=ya))
            shapes.append(dict(type="line", xref=xa, yref=ya, x0=XR[0], x1=XR[1], y0=0, y1=0,
                               line=dict(color="#000000", width=3), layer="above"))
            layout[xk] = dict(domain=xdom, anchor=ya, range=XR, tickvals=xs, ticktext=XLABELS[subj],
                              showline=True, linecolor="#262626", linewidth=1.5, ticks="inside", ticklen=6,
                              tickcolor="#262626", showgrid=False, zeroline=False, layer="below traces",
                              tickangle=0, ticklabelstandoff=8, automargin=False,
                              tickfont=dict(family=FONT, size=26, color=TXT), fixedrange=True)
            layout[yk] = dict(domain=ydom, anchor=xa, range=WORK_RANGE[(subj, col)],
                              tickvals=WORK_TICKS[(subj, col)],
                              ticktext=[fmt(v) for v in WORK_TICKS[(subj, col)]],
                              showline=True, linecolor="#262626", linewidth=1.5, ticks="inside", ticklen=6,
                              tickcolor="#262626", showgrid=False, zeroline=False, ticklabelstandoff=4,
                              automargin=False,
                              tickfont=dict(family=FONT, size=25, color=TXT), fixedrange=True)
    annotations.append(dict(text=f"<b>{subj}</b>", x=px(16), y=py((y0p + y1p) / 2), xref="paper", yref="paper",
                            textangle=-90, showarrow=False, xanchor="center", yanchor="middle",
                            font=dict(family=FONT, size=24, color=TXT)))

for title, yp in (("MS Subjects Hip Energetics", 26), ("Control Subjects Hip Energetics", 1350)):
    annotations.append(dict(text=title, x=0.5, y=py(yp), xref="paper", yref="paper", showarrow=False,
                            xanchor="center", yanchor="middle", font=dict(family=FONT, size=44, color="#000000")))
COL_TITLES = {"power": "Power (W/kg) Over Gait Cycle", "POS": "Positive Work", "NEG": "Negative Work", "NET": "Net Work"}
for yp in (97, 1428):
    for col in COLS:
        x0p, x1p = COL_PX[col]
        annotations.append(dict(text=f"<b>{COL_TITLES[col]}</b>", x=px((x0p + x1p) / 2), y=py(yp),
                                xref="paper", yref="paper", showarrow=False, xanchor="center", yanchor="middle",
                                font=dict(family=FONT, size=28, color=TXT)))
for yp in (1088, 2425):
    annotations.append(dict(text="% Gait Cycle", x=px(430), y=py(yp), xref="paper", yref="paper",
                            showarrow=False, xanchor="center", yanchor="middle",
                            font=dict(family=FONT, size=28, color=TXT)))

shapes.append(dict(type="rect", xref="paper", yref="paper", x0=px(80), x1=px(283), y0=py(1323), y1=py(1137),
                   line=dict(color="#333333", width=1.5), fillcolor="white", layer="above"))
for k, cond in enumerate(LEGEND_ITEMS):
    yp = 1164 + k * 43.7
    shapes.append(dict(type="line", xref="paper", yref="paper", x0=px(92), x1=px(216), y0=py(yp), y1=py(yp),
                       line=dict(color=COLORS[cond], width=4 if cond == "N1" else 8), layer="above"))
    annotations.append(dict(text=cond, x=px(224), y=py(yp), xref="paper", yref="paper", showarrow=False,
                            xanchor="left", yanchor="middle", font=dict(family=FONT, size=30, color="#000000")))

fig.update_layout(template="none", width=W, height=H, autosize=False,
                  margin=dict(l=0, r=0, t=0, b=0, pad=0, autoexpand=False),
                  font=dict(family=FONT, color=TXT),
                  paper_bgcolor="white", plot_bgcolor="white", showlegend=False,
                  shapes=shapes, annotations=annotations, bargap=0, **layout)
fig.write_html("out.html", config={"displayModeBar": False},
               post_script="document.body.style.margin='0px';document.body.style.overflow='hidden';")
